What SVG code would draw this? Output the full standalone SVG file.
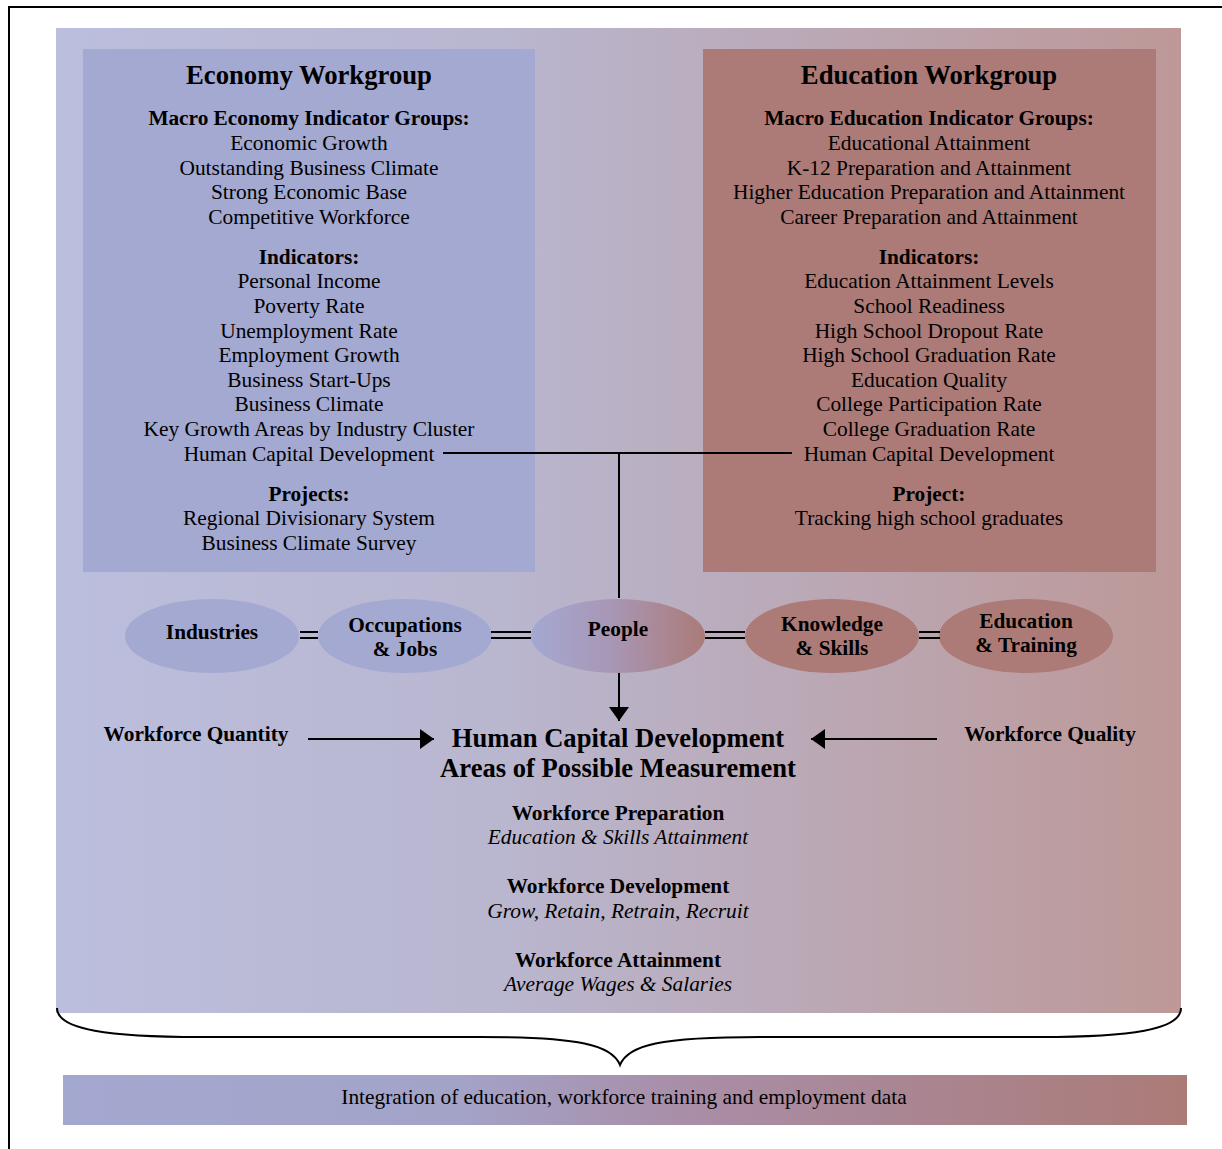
<svg xmlns="http://www.w3.org/2000/svg" width="1222" height="1149" viewBox="0 0 1222 1149">
<defs>
<linearGradient id="bg" x1="0" y1="0" x2="1" y2="0">
<stop offset="0" stop-color="#bbbedd"/><stop offset="0.4" stop-color="#b9b6cf"/><stop offset="1" stop-color="#bd9897"/>
</linearGradient>
<linearGradient id="bar" x1="0" y1="0" x2="1" y2="0">
<stop offset="0" stop-color="#a3a8d0"/><stop offset="0.35" stop-color="#a3a3c8"/><stop offset="0.55" stop-color="#a98ea8"/><stop offset="1" stop-color="#ab7b77"/>
</linearGradient>
<linearGradient id="ppl" x1="0" y1="0" x2="1" y2="0">
<stop offset="0" stop-color="#a4a8d1"/><stop offset="0.45" stop-color="#a897b6"/><stop offset="1" stop-color="#ab7b78"/>
</linearGradient>
<marker id="ah" viewBox="0 0 14 20" refX="14" refY="10" markerWidth="14" markerHeight="20" orient="auto" markerUnits="userSpaceOnUse">
<path d="M0,0 L14,10 L0,20 z" fill="#000"/>
</marker>
<style>
text{font-family:"Liberation Serif","Times New Roman",serif;fill:#000;text-anchor:middle}
.t{font-size:26.7px;font-weight:bold}
.h{font-size:21.3px;font-weight:bold}
.r{font-size:21.4px}
.i{font-size:21.4px;font-style:italic}
.n{font-size:21.3px;font-weight:bold}
.big{font-size:26.6px;font-weight:bold}
.ln{stroke:#000;stroke-width:2;fill:none}
.eb{fill:#a4a9d1}
.er{fill:#ac7b78}
</style>
</defs>
<rect x="9" y="7" width="1230" height="1160" fill="#fff" stroke="#000" stroke-width="2"/>
<rect x="56" y="28" width="1125" height="985" fill="url(#bg)"/>

<g id="economy">
<rect x="83" y="49" width="452" height="523" class="eb"/>
<text class="t" x="309" y="84">Economy Workgroup</text>
<text class="h" x="309" y="125">Macro Economy Indicator Groups:</text>
<text class="r" x="309" y="150">Economic Growth</text>
<text class="r" x="309" y="175">Outstanding Business Climate</text>
<text class="r" x="309" y="199">Strong Economic Base</text>
<text class="r" x="309" y="224">Competitive Workforce</text>
<text class="h" x="309" y="264">Indicators:</text>
<text class="r" x="309" y="288">Personal Income</text>
<text class="r" x="309" y="313">Poverty Rate</text>
<text class="r" x="309" y="338">Unemployment Rate</text>
<text class="r" x="309" y="362">Employment Growth</text>
<text class="r" x="309" y="387">Business Start-Ups</text>
<text class="r" x="309" y="411">Business Climate</text>
<text class="r" x="309" y="436">Key Growth Areas by Industry Cluster</text>
<text class="r" x="309" y="461">Human Capital Development</text>
<text class="h" x="309" y="501">Projects:</text>
<text class="r" x="309" y="525">Regional Divisionary System</text>
<text class="r" x="309" y="550">Business Climate Survey</text>
</g>

<g id="education">
<rect x="703" y="49" width="453" height="523" class="er"/>
<text class="t" x="929" y="84">Education Workgroup</text>
<text class="h" x="929" y="125">Macro Education Indicator Groups:</text>
<text class="r" x="929" y="150">Educational Attainment</text>
<text class="r" x="929" y="175">K-12 Preparation and Attainment</text>
<text class="r" x="929" y="199">Higher Education Preparation and Attainment</text>
<text class="r" x="929" y="224">Career Preparation and Attainment</text>
<text class="h" x="929" y="264">Indicators:</text>
<text class="r" x="929" y="288">Education Attainment Levels</text>
<text class="r" x="929" y="313">School Readiness</text>
<text class="r" x="929" y="338">High School Dropout Rate</text>
<text class="r" x="929" y="362">High School Graduation Rate</text>
<text class="r" x="929" y="387">Education Quality</text>
<text class="r" x="929" y="411">College Participation Rate</text>
<text class="r" x="929" y="436">College Graduation Rate</text>
<text class="r" x="929" y="461">Human Capital Development</text>
<text class="h" x="929" y="501">Project:</text>
<text class="r" x="929" y="525">Tracking high school graduates</text>
</g>

<g id="industries">
<ellipse cx="212" cy="636" rx="87" ry="37" class="eb"/>
<text class="n" x="212" y="639">Industries</text>
</g>
<g id="occupations">
<ellipse cx="405" cy="636" rx="87" ry="37" class="eb"/>
<text class="n" x="405" y="632">Occupations</text>
<text class="n" x="405" y="656">&amp; Jobs</text>
</g>
<g id="people">
<ellipse cx="618" cy="636" rx="87" ry="37" fill="url(#ppl)"/>
<text class="n" x="618" y="636">People</text>
</g>
<g id="knowledge">
<ellipse cx="832" cy="636" rx="87" ry="37" class="er"/>
<text class="n" x="832" y="631">Knowledge</text>
<text class="n" x="832" y="655">&amp; Skills</text>
</g>
<g id="edtraining">
<ellipse cx="1026" cy="636" rx="87" ry="37" class="er"/>
<text class="n" x="1026" y="628">Education</text>
<text class="n" x="1026" y="652">&amp; Training</text>
</g>

<g id="hcd">
<text class="big" x="618" y="747">Human Capital Development</text>
<text class="big" x="618" y="777">Areas of Possible Measurement</text>
<text class="h" x="618" y="820">Workforce Preparation</text>
<text class="i" x="618" y="844">Education &amp; Skills Attainment</text>
<text class="h" x="618" y="893">Workforce Development</text>
<text class="i" x="618" y="918">Grow, Retain, Retrain, Recruit</text>
<text class="h" x="618" y="967">Workforce Attainment</text>
<text class="i" x="618" y="991">Average Wages &amp; Salaries</text>
</g>
<g id="wquantity"><text class="h" x="196" y="741">Workforce Quantity</text></g>
<g id="wquality"><text class="h" x="1050" y="741">Workforce Quality</text></g>

<g id="integration">
<rect x="63" y="1075" width="1124" height="50" fill="url(#bar)"/>
<text class="r" x="624" y="1104">Integration of education, workforce training and employment data</text>
</g>

<g id="connectors">
<path class="ln" d="M443,453 H792 M619,453 V598"/>
<path class="ln" d="M619,673 V721" marker-end="url(#ah)"/>
<path class="ln" d="M308,739 H434" marker-end="url(#ah)"/>
<path class="ln" d="M937,739 H811" marker-end="url(#ah)"/>
<path class="ln" d="M300,632 H318 M300,638 H318"/>
<path class="ln" d="M491,632 H531 M491,638 H531"/>
<path class="ln" d="M705,632 H745 M705,638 H745"/>
<path class="ln" d="M919,632 H940 M919,638 H940"/>
<path class="ln" d="M57,1008 C57,1030 110,1037 200,1037 H480 C580,1037 612,1045 620,1065 C628,1045 660,1037 760,1037 H1040 C1130,1037 1181,1030 1181,1008"/>
</g>
</svg>
